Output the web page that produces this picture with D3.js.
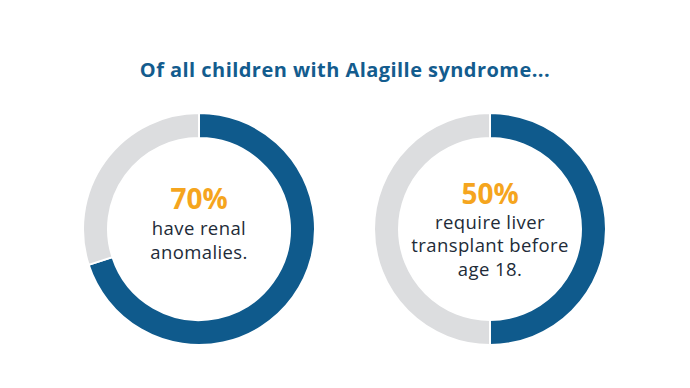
<!DOCTYPE html>
<html lang="en">
    <head>
        <meta charset="utf-8">
        <script type="text/javascript" src="https://d3js.org/d3.v7.min.js"></script>
        <style type="text/css">
          body { margin: 0; background: white; }
        </style>
    </head>
    <body>
      <script type="text/javascript">
        // data for the two donuts
        var percents = [70, 50];
        var captions = [
          ["have renal", "anomalies."],
          ["require liver", "transplant before", "age 18."]
        ];
        var title = "Of all children with Alagille syndrome...";

        // size of the svg
        var w = 690;
        var h = 388;
        var outerR = 116;
        var innerR = 91;

        var svg = d3.select("body").append("svg")
                    .attr("width", w)
                    .attr("height", h);

        // centres of the donuts
        var xScale = d3.scalePoint()
                       .domain(d3.range(percents.length))
                       .range([199, 490]);
        var cy = 229;

        var colors = ["#0f5a8c", "#dcdddf"];

        svg.append("text")
           .attr("x", 345)
           .attr("y", 77)
           .attr("text-anchor", "middle")
           .attr("font-family", "Open Sans")
           .attr("font-weight", 700)
           .attr("font-size", "20px")
           .attr("letter-spacing", "0.45px")
           .attr("fill", "#135c8e")
           .text(title);

        var pie = d3.pie().sort(null).value(function(d) { return d; });
        var arc = d3.arc().innerRadius(innerR).outerRadius(outerR);

        percents.forEach(function(p, i) {
          var g = svg.append("g")
                     .attr("transform", "translate(" + xScale(i) + "," + cy + ")");

          g.selectAll("path")
           .data(pie([p, 100 - p]))
           .enter()
           .append("path")
           .attr("d", arc)
           .attr("fill", function(d, j) { return colors[j]; })
           .attr("stroke", "white")
           .attr("stroke-width", 2);

          // line positions depend on how many caption lines there are
          var lines = captions[i];
          var top = lines.length == 2 ? -20 : -25;

          g.append("text")
           .attr("y", top)
           .attr("text-anchor", "middle")
           .attr("font-family", "Open Sans")
           .attr("font-weight", 700)
           .attr("font-size", "28px")
           .attr("fill", "#f5a51e")
           .text(p + "%");

          lines.forEach(function(line, k) {
            g.append("text")
             .attr("y", top + (lines.length == 2 ? 26 : 24.5) + k * 23.5)
             .attr("text-anchor", "middle")
             .attr("font-family", "Open Sans")
             .attr("font-size", "18.5px")
             .attr("letter-spacing", "0.4px")
             .attr("fill", "#222b38")
             .text(line);
          });
        });
      </script>
    </body>
</html>
